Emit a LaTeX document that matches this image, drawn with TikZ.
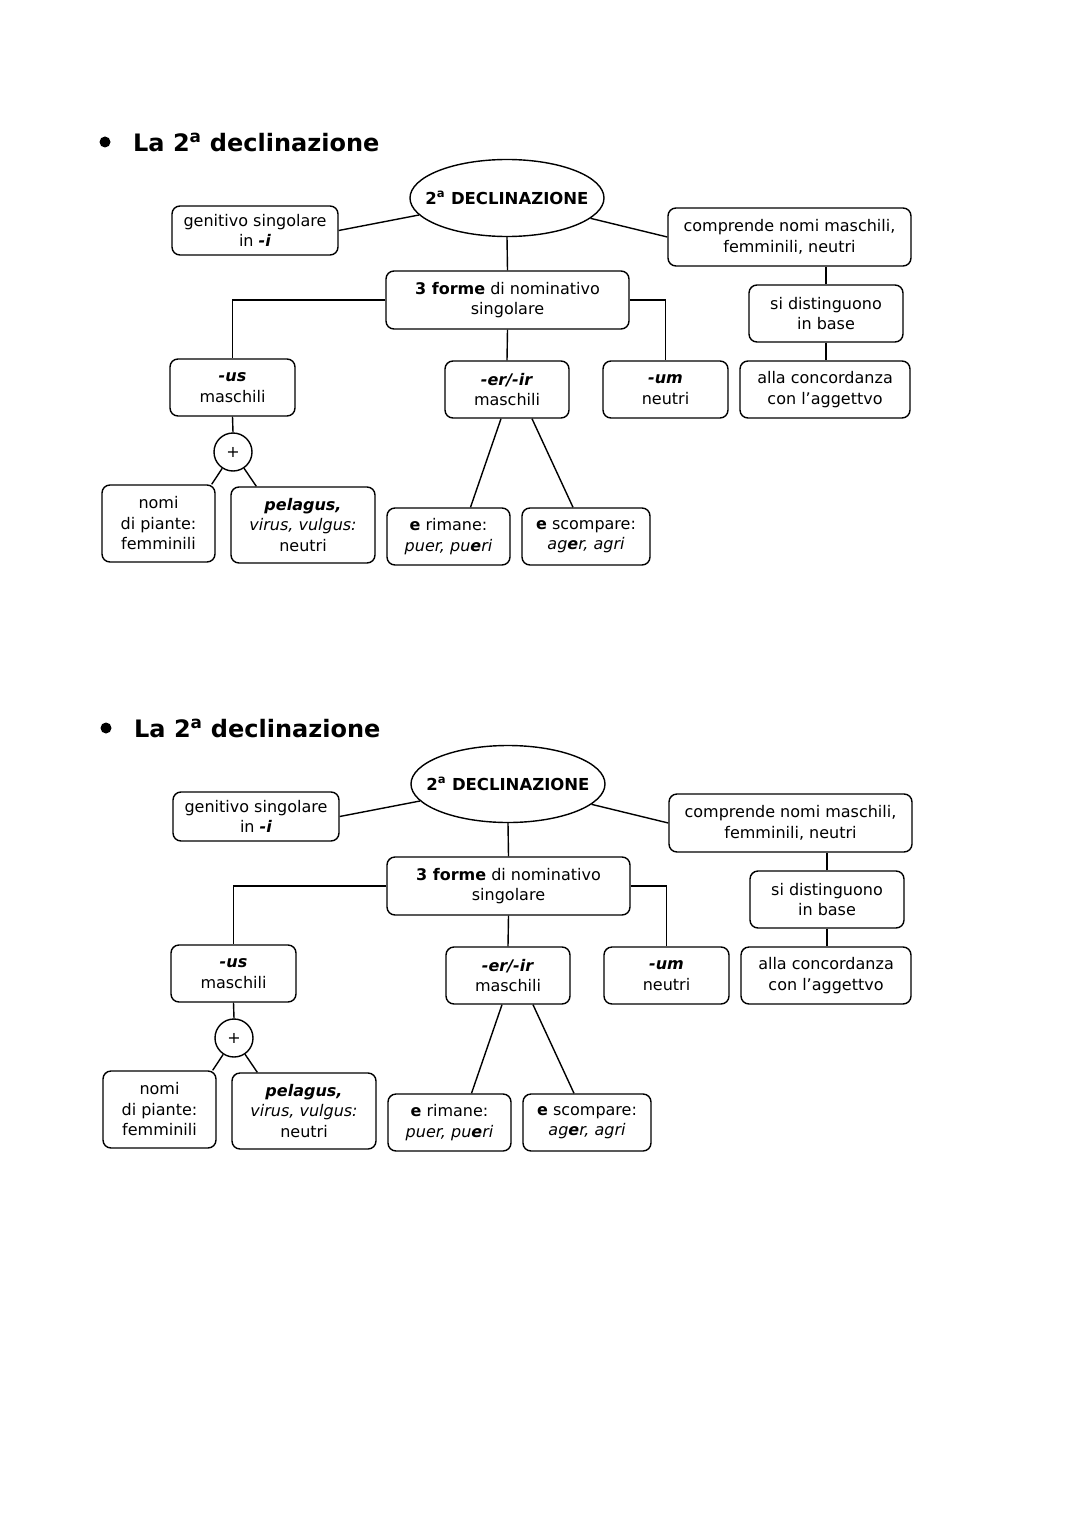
\documentclass[tikz,border=0pt]{standalone}
\usepackage{fontspec}
\setmainfont{DejaVu Sans}
\usetikzlibrary{calc,shapes.geometric}
\tikzset{
  bx/.style={draw, rounded corners=8pt, line width=1.4pt, align=center, inner sep=0pt,
    font=\fontsize{16}{20.5}\selectfont},
  ln/.style={line width=1.4pt},
  ellbox/.style={draw, ellipse, line width=1.4pt, inner sep=0pt, minimum width=194pt,
    minimum height=77pt, font=\bfseries\fontsize{16.5}{20}\selectfont},
  plusc/.style={draw, circle, line width=1.4pt, minimum size=38pt, inner sep=0pt,
    font=\fontsize{16}{20}\selectfont},
  ttl/.style={font=\bfseries\fontsize{24}{28}\selectfont, anchor=west, inner sep=0pt}
}
\newcommand{\mydiag}[3]{%
\begin{scope}[shift={(#2,#3)}]
  \fill (105,142) circle (5.5pt);
  \node[ttl] (#1t) at (133,142) {La 2\textsuperscript{a} declinazione};
  \node[ellbox] (#1ell) at (507,198) {\makebox[0pt][c]{2\textsuperscript{a} DECLINAZIONE}};
  \node[bx, minimum width=166pt, minimum height=49pt] (#1gen) at (255,230.5) {genitivo singolare\\in \textbf{\textit{-i}}};
  \node[bx, minimum width=243pt, minimum height=58pt] (#1comp) at (789.5,237) {comprende nomi maschili,\\femminili, neutri};
  \node[bx, minimum width=243pt, minimum height=58pt] (#1f3) at (507.5,300) {\textbf{3 forme} di nominativo\\singolare};
  \node[bx, minimum width=154pt, minimum height=57pt] (#1si) at (826,313.5) {si distinguono\\in base};
  \node[bx, minimum width=125pt, minimum height=57pt] (#1us) at (232.5,387.5) {\textbf{\textit{-us}}\\maschili};
  \node[bx, minimum width=124pt, minimum height=57pt] (#1er) at (507,389.5) {\textbf{\textit{-er/-ir}}\\maschili};
  \node[bx, minimum width=125pt, minimum height=57pt] (#1um) at (665.5,389.5) {\textbf{\textit{-um}}\\neutri};
  \node[bx, minimum width=170pt, minimum height=57pt] (#1alla) at (825,389.5) {alla concordanza\\con l’aggettvo};
  \node[plusc] (#1plus) at (233,452) {+};
  \node[bx, minimum width=113pt, minimum height=77pt] (#1nomi) at (158.5,523.5) {nomi\\di piante:\\femminili};
  \node[bx, minimum width=144pt, minimum height=76pt] (#1pel) at (303,525) {\textbf{\textit{pelagus,}}\\\textit{virus, vulgus:}\\neutri};
  \node[bx, minimum width=123pt, minimum height=57pt] (#1rim) at (448.5,536.5) {\textbf{e} rimane:\\\textit{puer, pu\textbf{e}ri}};
  \node[bx, minimum width=128pt, minimum height=57pt] (#1sc) at (586,536.5) {\textbf{e} scompare:\\\textit{ag\textbf{e}r, agri}};
  \draw[ln] (#1gen.east) -- (#1ell);
  \draw[ln] (#1comp.west) -- (#1ell);
  \draw[ln] (#1ell.south) -- (#1f3.north);
  \draw[ln] (#1f3.west) -| (#1us.north);
  \draw[ln] (#1f3.east) -| (#1um.north);
  \draw[ln] (#1f3.south) -- (#1er.north);
  \draw[ln] (#1si.north) -- (#1si.north |- #1comp.south);
  \draw[ln] (#1si.south) -- (#1si.south |- #1alla.north);
  \draw[ln] (#1us.south) -- (#1plus.north);
  \draw[ln] (#1plus) -- ($(#1nomi.north east)+(-4,0)$);
  \draw[ln] (#1plus) -- ($(#1pel.north west)+(26,0)$);
  \draw[ln] ($(#1er.south)+(-6,0)$) -- ($(#1rim.north)+(22,0)$);
  \draw[ln] ($(#1er.south)+(25,0)$) -- ($(#1sc.north)+(-13,0)$);
\end{scope}}
\begin{document}
\begin{tikzpicture}[x=1pt,y=-1pt]
  \fill[white] (0,0) rectangle (1080,1525);
  \useasboundingbox (0,0) rectangle (1080,1525);
  \mydiag{a}{0}{0}
  \mydiag{b}{1}{586}
\end{tikzpicture}
\end{document}
